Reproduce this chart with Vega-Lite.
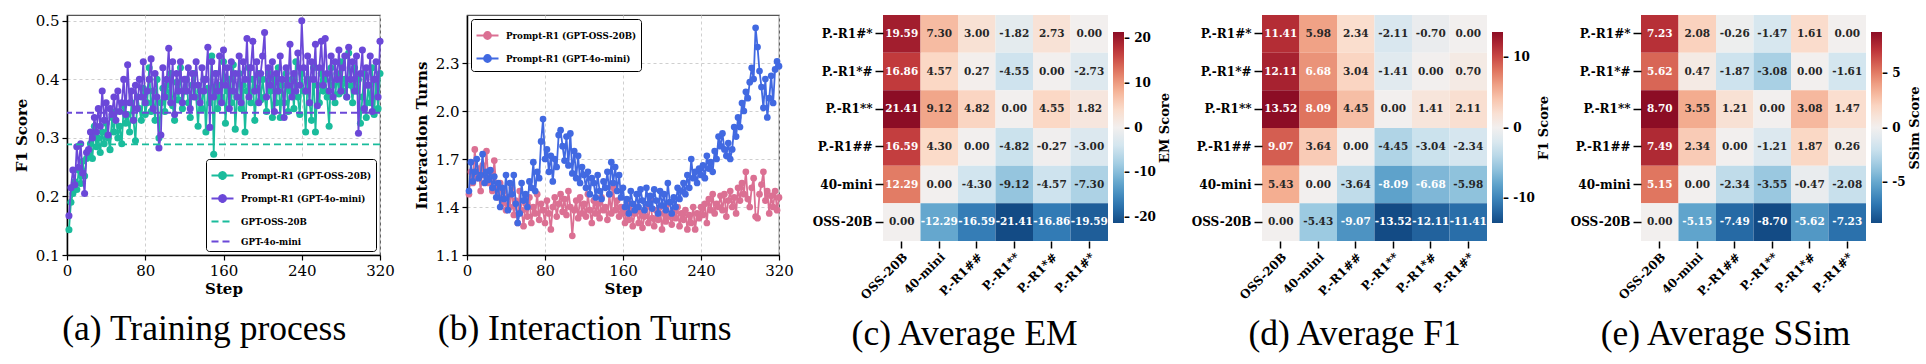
{
"$schema": "https://vega.github.io/schema/vega-lite/v6.json",
"background": "white",
"padding": {"left": 13, "top": 13, "right": 0, "bottom": 0},
"spacing": 18,
"resolve": {"scale": {"color": "independent", "strokeDash": "independent"}, "legend": {"color": "independent", "strokeDash": "independent"}},
"datasets": {
"train": [
{"step":2,"oss":0.143,"mini":0.167},{"step":4,"oss":0.19,"mini":0.215},{"step":6,"oss":0.205,"mini":0.245},{"step":8,"oss":0.225,"mini":0.22},{"step":10,"oss":0.212,"mini":0.285},
{"step":12,"oss":0.245,"mini":0.25},{"step":14,"oss":0.222,"mini":0.29},{"step":16,"oss":0.26,"mini":0.24},{"step":18,"oss":0.235,"mini":0.205},{"step":20,"oss":0.265,"mini":0.275},
{"step":22,"oss":0.27,"mini":0.28},{"step":24,"oss":0.29,"mini":0.31},{"step":26,"oss":0.265,"mini":0.30},{"step":28,"oss":0.32,"mini":0.335},{"step":30,"oss":0.285,"mini":0.31},
{"step":32,"oss":0.30,"mini":0.35},{"step":34,"oss":0.275,"mini":0.32},{"step":36,"oss":0.31,"mini":0.38},{"step":38,"oss":0.29,"mini":0.33},{"step":40,"oss":0.325,"mini":0.36},
{"step":42,"oss":0.30,"mini":0.305},{"step":44,"oss":0.28,"mini":0.35},{"step":46,"oss":0.335,"mini":0.34},{"step":48,"oss":0.31,"mini":0.37},{"step":50,"oss":0.345,"mini":0.33},
{"step":52,"oss":0.30,"mini":0.38},{"step":54,"oss":0.32,"mini":0.345},{"step":56,"oss":0.29,"mini":0.36},{"step":58,"oss":0.355,"mini":0.40},{"step":60,"oss":0.325,"mini":0.34},
{"step":62,"oss":0.34,"mini":0.425},{"step":64,"oss":0.31,"mini":0.36},{"step":66,"oss":0.36,"mini":0.38},{"step":68,"oss":0.33,"mini":0.33},{"step":70,"oss":0.295,"mini":0.39},
{"step":72,"oss":0.37,"mini":0.35},{"step":74,"oss":0.35,"mini":0.40},{"step":76,"oss":0.33,"mini":0.37},{"step":78,"oss":0.385,"mini":0.43},{"step":80,"oss":0.34,"mini":0.36},
{"step":82,"oss":0.36,"mini":0.38},{"step":84,"oss":0.42,"mini":0.40},{"step":86,"oss":0.345,"mini":0.435},{"step":88,"oss":0.38,"mini":0.35},{"step":90,"oss":0.33,"mini":0.41},
{"step":92,"oss":0.40,"mini":0.37},{"step":94,"oss":0.30,"mini":0.283},{"step":96,"oss":0.36,"mini":0.305},{"step":98,"oss":0.385,"mini":0.42},{"step":100,"oss":0.345,"mini":0.37},
{"step":102,"oss":0.39,"mini":0.40},{"step":104,"oss":0.37,"mini":0.453},{"step":106,"oss":0.41,"mini":0.36},{"step":108,"oss":0.355,"mini":0.43},{"step":110,"oss":0.33,"mini":0.34},
{"step":112,"oss":0.395,"mini":0.41},{"step":114,"oss":0.365,"mini":0.38},{"step":116,"oss":0.42,"mini":0.43},{"step":118,"oss":0.35,"mini":0.36},{"step":120,"oss":0.38,"mini":0.40},
{"step":122,"oss":0.40,"mini":0.38},{"step":124,"oss":0.36,"mini":0.42},{"step":126,"oss":0.335,"mini":0.35},{"step":128,"oss":0.39,"mini":0.41},{"step":130,"oss":0.41,"mini":0.37},
{"step":132,"oss":0.37,"mini":0.43},{"step":134,"oss":0.32,"mini":0.39},{"step":136,"oss":0.38,"mini":0.36},{"step":138,"oss":0.35,"mini":0.42},{"step":140,"oss":0.40,"mini":0.38},
{"step":142,"oss":0.31,"mini":0.40},{"step":144,"oss":0.385,"mini":0.455},{"step":146,"oss":0.36,"mini":0.318},{"step":148,"oss":0.44,"mini":0.43},{"step":150,"oss":0.272,"mini":0.37},
{"step":152,"oss":0.41,"mini":0.41},{"step":154,"oss":0.35,"mini":0.38},{"step":156,"oss":0.39,"mini":0.44},{"step":158,"oss":0.37,"mini":0.36},{"step":160,"oss":0.43,"mini":0.45},
{"step":162,"oss":0.325,"mini":0.39},{"step":164,"oss":0.38,"mini":0.42},{"step":166,"oss":0.40,"mini":0.35},{"step":168,"oss":0.36,"mini":0.43},{"step":170,"oss":0.425,"mini":0.38},
{"step":172,"oss":0.315,"mini":0.41},{"step":174,"oss":0.37,"mini":0.37},{"step":176,"oss":0.41,"mini":0.44},{"step":178,"oss":0.35,"mini":0.36},{"step":180,"oss":0.39,"mini":0.43},
{"step":182,"oss":0.31,"mini":0.40},{"step":184,"oss":0.38,"mini":0.47},{"step":186,"oss":0.42,"mini":0.37},{"step":188,"oss":0.36,"mini":0.42},{"step":190,"oss":0.40,"mini":0.465},
{"step":192,"oss":0.33,"mini":0.38},{"step":194,"oss":0.385,"mini":0.43},{"step":196,"oss":0.41,"mini":0.36},{"step":198,"oss":0.365,"mini":0.41},{"step":200,"oss":0.40,"mini":0.44},
{"step":202,"oss":0.37,"mini":0.48},{"step":204,"oss":0.345,"mini":0.37},{"step":206,"oss":0.41,"mini":0.42},{"step":208,"oss":0.38,"mini":0.39},{"step":210,"oss":0.335,"mini":0.43},
{"step":212,"oss":0.40,"mini":0.345},{"step":214,"oss":0.36,"mini":0.41},{"step":216,"oss":0.42,"mini":0.38},{"step":218,"oss":0.335,"mini":0.44},{"step":220,"oss":0.39,"mini":0.40},
{"step":222,"oss":0.36,"mini":0.335},{"step":224,"oss":0.41,"mini":0.42},{"step":226,"oss":0.345,"mini":0.39},{"step":228,"oss":0.38,"mini":0.46},{"step":230,"oss":0.40,"mini":0.37},
{"step":232,"oss":0.35,"mini":0.41},{"step":234,"oss":0.43,"mini":0.38},{"step":236,"oss":0.37,"mini":0.445},{"step":238,"oss":0.34,"mini":0.39},{"step":240,"oss":0.41,"mini":0.50},
{"step":242,"oss":0.38,"mini":0.42},{"step":244,"oss":0.31,"mini":0.38},{"step":246,"oss":0.40,"mini":0.44},{"step":248,"oss":0.36,"mini":0.36},{"step":250,"oss":0.33,"mini":0.43},
{"step":252,"oss":0.42,"mini":0.40},{"step":254,"oss":0.31,"mini":0.46},{"step":256,"oss":0.39,"mini":0.355},{"step":258,"oss":0.36,"mini":0.42},{"step":260,"oss":0.41,"mini":0.465},
{"step":262,"oss":0.38,"mini":0.39},{"step":264,"oss":0.40,"mini":0.47},{"step":266,"oss":0.37,"mini":0.41},{"step":268,"oss":0.32,"mini":0.38},{"step":270,"oss":0.42,"mini":0.44},
{"step":272,"oss":0.39,"mini":0.37},{"step":274,"oss":0.36,"mini":0.43},{"step":276,"oss":0.41,"mini":0.40},{"step":278,"oss":0.375,"mini":0.45},{"step":280,"oss":0.43,"mini":0.38},
{"step":282,"oss":0.38,"mini":0.42},{"step":284,"oss":0.40,"mini":0.44},{"step":286,"oss":0.37,"mini":0.37},{"step":288,"oss":0.445,"mini":0.455},{"step":290,"oss":0.39,"mini":0.40},
{"step":292,"oss":0.36,"mini":0.43},{"step":294,"oss":0.42,"mini":0.38},{"step":296,"oss":0.38,"mini":0.44},{"step":298,"oss":0.40,"mini":0.308},{"step":300,"oss":0.325,"mini":0.41},
{"step":302,"oss":0.37,"mini":0.45},{"step":304,"oss":0.41,"mini":0.35},{"step":306,"oss":0.335,"mini":0.42},{"step":308,"oss":0.39,"mini":0.39},{"step":310,"oss":0.36,"mini":0.44},
{"step":312,"oss":0.42,"mini":0.345},{"step":314,"oss":0.34,"mini":0.40},{"step":316,"oss":0.40,"mini":0.43},{"step":318,"oss":0.35,"mini":0.37},{"step":320,"oss":0.41,"mini":0.465}
],
"base": [{"k":"GPT-OSS-20B","v":0.289},{"k":"GPT-4o-mini","v":0.343}],
"turns": [
{"step":2,"oss":1.48,"mini":1.50},{"step":4,"oss":1.62,"mini":1.68},{"step":6,"oss":1.55,"mini":1.56},{"step":8,"oss":1.76,"mini":1.62},{"step":10,"oss":1.58,"mini":1.70},
{"step":12,"oss":1.64,"mini":1.58},{"step":14,"oss":1.50,"mini":1.60},{"step":16,"oss":1.66,"mini":1.73},{"step":18,"oss":1.60,"mini":1.55},{"step":20,"oss":1.75,"mini":1.62},
{"step":22,"oss":1.55,"mini":1.57},{"step":24,"oss":1.62,"mini":1.63},{"step":26,"oss":1.50,"mini":1.52},{"step":28,"oss":1.69,"mini":1.59},{"step":30,"oss":1.52,"mini":1.46},
{"step":32,"oss":1.46,"mini":1.55},{"step":34,"oss":1.55,"mini":1.40},{"step":36,"oss":1.42,"mini":1.52},{"step":38,"oss":1.50,"mini":1.45},{"step":40,"oss":1.38,"mini":1.60},
{"step":42,"oss":1.46,"mini":1.38},{"step":44,"oss":1.40,"mini":1.55},{"step":46,"oss":1.52,"mini":1.48},{"step":48,"oss":1.35,"mini":1.60},{"step":50,"oss":1.44,"mini":1.42},
{"step":52,"oss":1.30,"mini":1.30},{"step":54,"oss":1.50,"mini":1.36},{"step":56,"oss":1.38,"mini":1.55},{"step":58,"oss":1.28,"mini":1.44},{"step":60,"oss":1.42,"mini":1.48},
{"step":62,"oss":1.34,"mini":1.40},{"step":64,"oss":1.46,"mini":1.56},{"step":66,"oss":1.30,"mini":1.52},{"step":68,"oss":1.40,"mini":1.68},{"step":70,"oss":1.36,"mini":1.50},
{"step":72,"oss":1.48,"mini":1.62},{"step":74,"oss":1.32,"mini":1.58},{"step":76,"oss":1.42,"mini":1.81},{"step":78,"oss":1.38,"mini":1.95},{"step":80,"oss":1.30,"mini":1.70},
{"step":82,"oss":1.44,"mini":1.76},{"step":84,"oss":1.36,"mini":1.62},{"step":86,"oss":1.26,"mini":1.72},{"step":88,"oss":1.40,"mini":1.56},{"step":90,"oss":1.46,"mini":1.70},
{"step":92,"oss":1.34,"mini":1.65},{"step":94,"oss":1.42,"mini":1.85},{"step":96,"oss":1.48,"mini":1.88},{"step":98,"oss":1.37,"mini":1.78},{"step":100,"oss":1.45,"mini":1.69},
{"step":102,"oss":1.35,"mini":1.84},{"step":104,"oss":1.50,"mini":1.66},{"step":106,"oss":1.40,"mini":1.86},{"step":108,"oss":1.22,"mini":1.61},{"step":110,"oss":1.38,"mini":1.75},
{"step":112,"oss":1.44,"mini":1.58},{"step":114,"oss":1.33,"mini":1.72},{"step":116,"oss":1.46,"mini":1.55},{"step":118,"oss":1.36,"mini":1.65},{"step":120,"oss":1.42,"mini":1.60},
{"step":122,"oss":1.34,"mini":1.52},{"step":124,"oss":1.48,"mini":1.62},{"step":126,"oss":1.38,"mini":1.48},{"step":128,"oss":1.30,"mini":1.58},{"step":130,"oss":1.44,"mini":1.55},
{"step":132,"oss":1.36,"mini":1.46},{"step":134,"oss":1.42,"mini":1.60},{"step":136,"oss":1.33,"mini":1.50},{"step":138,"oss":1.46,"mini":1.45},{"step":140,"oss":1.38,"mini":1.56},
{"step":142,"oss":1.40,"mini":1.52},{"step":144,"oss":1.32,"mini":1.62},{"step":146,"oss":1.48,"mini":1.48},{"step":148,"oss":1.36,"mini":1.68},{"step":150,"oss":1.52,"mini":1.55},
{"step":152,"oss":1.38,"mini":1.65},{"step":154,"oss":1.44,"mini":1.50},{"step":156,"oss":1.34,"mini":1.60},{"step":158,"oss":1.40,"mini":1.46},{"step":160,"oss":1.36,"mini":1.52},
{"step":162,"oss":1.30,"mini":1.40},{"step":164,"oss":1.38,"mini":1.45},{"step":166,"oss":1.32,"mini":1.36},{"step":168,"oss":1.42,"mini":1.50},{"step":170,"oss":1.28,"mini":1.42},
{"step":172,"oss":1.36,"mini":1.38},{"step":174,"oss":1.40,"mini":1.48},{"step":176,"oss":1.30,"mini":1.40},{"step":178,"oss":1.37,"mini":1.51},{"step":180,"oss":1.27,"mini":1.44},
{"step":182,"oss":1.34,"mini":1.38},{"step":184,"oss":1.40,"mini":1.52},{"step":186,"oss":1.30,"mini":1.42},{"step":188,"oss":1.45,"mini":1.47},{"step":190,"oss":1.33,"mini":1.39},
{"step":192,"oss":1.28,"mini":1.51},{"step":194,"oss":1.38,"mini":1.44},{"step":196,"oss":1.32,"mini":1.36},{"step":198,"oss":1.40,"mini":1.50},{"step":200,"oss":1.26,"mini":1.41},
{"step":202,"oss":1.36,"mini":1.48},{"step":204,"oss":1.31,"mini":1.38},{"step":206,"oss":1.42,"mini":1.55},{"step":208,"oss":1.34,"mini":1.43},{"step":210,"oss":1.29,"mini":1.36},
{"step":212,"oss":1.38,"mini":1.46},{"step":214,"oss":1.33,"mini":1.40},{"step":216,"oss":1.40,"mini":1.52},{"step":218,"oss":1.28,"mini":1.45},{"step":220,"oss":1.36,"mini":1.50},
{"step":222,"oss":1.32,"mini":1.55},{"step":224,"oss":1.38,"mini":1.48},{"step":226,"oss":1.26,"mini":1.60},{"step":228,"oss":1.35,"mini":1.52},{"step":230,"oss":1.30,"mini":1.70},
{"step":232,"oss":1.40,"mini":1.58},{"step":234,"oss":1.26,"mini":1.62},{"step":236,"oss":1.36,"mini":1.55},{"step":238,"oss":1.33,"mini":1.64},{"step":240,"oss":1.40,"mini":1.60},
{"step":242,"oss":1.35,"mini":1.66},{"step":244,"oss":1.42,"mini":1.58},{"step":246,"oss":1.30,"mini":1.72},{"step":248,"oss":1.45,"mini":1.64},{"step":250,"oss":1.38,"mini":1.68},
{"step":252,"oss":1.48,"mini":1.62},{"step":254,"oss":1.36,"mini":1.75},{"step":256,"oss":1.42,"mini":1.70},{"step":258,"oss":1.40,"mini":1.84},{"step":260,"oss":1.47,"mini":1.78},
{"step":262,"oss":1.38,"mini":1.86},{"step":264,"oss":1.48,"mini":1.76},{"step":266,"oss":1.34,"mini":1.72},{"step":268,"oss":1.44,"mini":1.80},{"step":270,"oss":1.50,"mini":1.70},
{"step":272,"oss":1.40,"mini":1.76},{"step":274,"oss":1.46,"mini":1.90},{"step":276,"oss":1.36,"mini":1.84},{"step":278,"oss":1.52,"mini":1.96},{"step":280,"oss":1.44,"mini":1.90},
{"step":282,"oss":1.55,"mini":2.05},{"step":284,"oss":1.48,"mini":2.00},{"step":286,"oss":1.62,"mini":2.12},{"step":288,"oss":1.45,"mini":2.08},{"step":290,"oss":1.40,"mini":2.18},
{"step":292,"oss":1.52,"mini":2.27},{"step":294,"oss":1.58,"mini":2.20},{"step":296,"oss":1.34,"mini":2.52},{"step":298,"oss":1.33,"mini":2.40},{"step":300,"oss":1.48,"mini":2.25},
{"step":302,"oss":1.54,"mini":2.15},{"step":304,"oss":1.62,"mini":2.02},{"step":306,"oss":1.44,"mini":2.20},{"step":308,"oss":1.50,"mini":1.96},{"step":310,"oss":1.36,"mini":2.08},
{"step":312,"oss":1.47,"mini":2.22},{"step":314,"oss":1.40,"mini":2.05},{"step":316,"oss":1.50,"mini":2.26},{"step":318,"oss":1.38,"mini":2.31},{"step":320,"oss":1.46,"mini":2.28}
],
"em": [
{"r":"P.-R1#*","c":"OSS-20B","v":19.59},{"r":"P.-R1#*","c":"40-mini","v":7.30},{"r":"P.-R1#*","c":"P.-R1##","v":3.00},{"r":"P.-R1#*","c":"P.-R1**","v":-1.82},{"r":"P.-R1#*","c":"P.-R1*#","v":2.73},{"r":"P.-R1#*","c":"P.-R1#*","v":0.00},
{"r":"P.-R1*#","c":"OSS-20B","v":16.86},{"r":"P.-R1*#","c":"40-mini","v":4.57},{"r":"P.-R1*#","c":"P.-R1##","v":0.27},{"r":"P.-R1*#","c":"P.-R1**","v":-4.55},{"r":"P.-R1*#","c":"P.-R1*#","v":0.00},{"r":"P.-R1*#","c":"P.-R1#*","v":-2.73},
{"r":"P.-R1**","c":"OSS-20B","v":21.41},{"r":"P.-R1**","c":"40-mini","v":9.12},{"r":"P.-R1**","c":"P.-R1##","v":4.82},{"r":"P.-R1**","c":"P.-R1**","v":0.00},{"r":"P.-R1**","c":"P.-R1*#","v":4.55},{"r":"P.-R1**","c":"P.-R1#*","v":1.82},
{"r":"P.-R1##","c":"OSS-20B","v":16.59},{"r":"P.-R1##","c":"40-mini","v":4.30},{"r":"P.-R1##","c":"P.-R1##","v":0.00},{"r":"P.-R1##","c":"P.-R1**","v":-4.82},{"r":"P.-R1##","c":"P.-R1*#","v":-0.27},{"r":"P.-R1##","c":"P.-R1#*","v":-3.00},
{"r":"40-mini","c":"OSS-20B","v":12.29},{"r":"40-mini","c":"40-mini","v":0.00},{"r":"40-mini","c":"P.-R1##","v":-4.30},{"r":"40-mini","c":"P.-R1**","v":-9.12},{"r":"40-mini","c":"P.-R1*#","v":-4.57},{"r":"40-mini","c":"P.-R1#*","v":-7.30},
{"r":"OSS-20B","c":"OSS-20B","v":0.00},{"r":"OSS-20B","c":"40-mini","v":-12.29},{"r":"OSS-20B","c":"P.-R1##","v":-16.59},{"r":"OSS-20B","c":"P.-R1**","v":-21.41},{"r":"OSS-20B","c":"P.-R1*#","v":-16.86},{"r":"OSS-20B","c":"P.-R1#*","v":-19.59}
],
"f1": [
{"r":"P.-R1#*","c":"OSS-20B","v":11.41},{"r":"P.-R1#*","c":"40-mini","v":5.98},{"r":"P.-R1#*","c":"P.-R1##","v":2.34},{"r":"P.-R1#*","c":"P.-R1**","v":-2.11},{"r":"P.-R1#*","c":"P.-R1*#","v":-0.70},{"r":"P.-R1#*","c":"P.-R1#*","v":0.00},
{"r":"P.-R1*#","c":"OSS-20B","v":12.11},{"r":"P.-R1*#","c":"40-mini","v":6.68},{"r":"P.-R1*#","c":"P.-R1##","v":3.04},{"r":"P.-R1*#","c":"P.-R1**","v":-1.41},{"r":"P.-R1*#","c":"P.-R1*#","v":0.00},{"r":"P.-R1*#","c":"P.-R1#*","v":0.70},
{"r":"P.-R1**","c":"OSS-20B","v":13.52},{"r":"P.-R1**","c":"40-mini","v":8.09},{"r":"P.-R1**","c":"P.-R1##","v":4.45},{"r":"P.-R1**","c":"P.-R1**","v":0.00},{"r":"P.-R1**","c":"P.-R1*#","v":1.41},{"r":"P.-R1**","c":"P.-R1#*","v":2.11},
{"r":"P.-R1##","c":"OSS-20B","v":9.07},{"r":"P.-R1##","c":"40-mini","v":3.64},{"r":"P.-R1##","c":"P.-R1##","v":0.00},{"r":"P.-R1##","c":"P.-R1**","v":-4.45},{"r":"P.-R1##","c":"P.-R1*#","v":-3.04},{"r":"P.-R1##","c":"P.-R1#*","v":-2.34},
{"r":"40-mini","c":"OSS-20B","v":5.43},{"r":"40-mini","c":"40-mini","v":0.00},{"r":"40-mini","c":"P.-R1##","v":-3.64},{"r":"40-mini","c":"P.-R1**","v":-8.09},{"r":"40-mini","c":"P.-R1*#","v":-6.68},{"r":"40-mini","c":"P.-R1#*","v":-5.98},
{"r":"OSS-20B","c":"OSS-20B","v":0.00},{"r":"OSS-20B","c":"40-mini","v":-5.43},{"r":"OSS-20B","c":"P.-R1##","v":-9.07},{"r":"OSS-20B","c":"P.-R1**","v":-13.52},{"r":"OSS-20B","c":"P.-R1*#","v":-12.11},{"r":"OSS-20B","c":"P.-R1#*","v":-11.41}
],
"ssim": [
{"r":"P.-R1#*","c":"OSS-20B","v":7.23},{"r":"P.-R1#*","c":"40-mini","v":2.08},{"r":"P.-R1#*","c":"P.-R1##","v":-0.26},{"r":"P.-R1#*","c":"P.-R1**","v":-1.47},{"r":"P.-R1#*","c":"P.-R1*#","v":1.61},{"r":"P.-R1#*","c":"P.-R1#*","v":0.00},
{"r":"P.-R1*#","c":"OSS-20B","v":5.62},{"r":"P.-R1*#","c":"40-mini","v":0.47},{"r":"P.-R1*#","c":"P.-R1##","v":-1.87},{"r":"P.-R1*#","c":"P.-R1**","v":-3.08},{"r":"P.-R1*#","c":"P.-R1*#","v":0.00},{"r":"P.-R1*#","c":"P.-R1#*","v":-1.61},
{"r":"P.-R1**","c":"OSS-20B","v":8.70},{"r":"P.-R1**","c":"40-mini","v":3.55},{"r":"P.-R1**","c":"P.-R1##","v":1.21},{"r":"P.-R1**","c":"P.-R1**","v":0.00},{"r":"P.-R1**","c":"P.-R1*#","v":3.08},{"r":"P.-R1**","c":"P.-R1#*","v":1.47},
{"r":"P.-R1##","c":"OSS-20B","v":7.49},{"r":"P.-R1##","c":"40-mini","v":2.34},{"r":"P.-R1##","c":"P.-R1##","v":0.00},{"r":"P.-R1##","c":"P.-R1**","v":-1.21},{"r":"P.-R1##","c":"P.-R1*#","v":1.87},{"r":"P.-R1##","c":"P.-R1#*","v":0.26},
{"r":"40-mini","c":"OSS-20B","v":5.15},{"r":"40-mini","c":"40-mini","v":0.00},{"r":"40-mini","c":"P.-R1##","v":-2.34},{"r":"40-mini","c":"P.-R1**","v":-3.55},{"r":"40-mini","c":"P.-R1*#","v":-0.47},{"r":"40-mini","c":"P.-R1#*","v":-2.08},
{"r":"OSS-20B","c":"OSS-20B","v":0.00},{"r":"OSS-20B","c":"40-mini","v":-5.15},{"r":"OSS-20B","c":"P.-R1##","v":-7.49},{"r":"OSS-20B","c":"P.-R1**","v":-8.70},{"r":"OSS-20B","c":"P.-R1*#","v":-5.62},{"r":"OSS-20B","c":"P.-R1#*","v":-7.23}
]
},
"hconcat": [
{
"width": 313, "height": 240,
"title": {"text": "(a) Training process", "orient": "bottom", "anchor": "middle", "frame": "bounds", "font": "Liberation Serif", "fontSize": 35.5, "fontWeight": "normal", "offset": 16, "dx": 0},
"layer": [
{"data": {"name": "train"}, "mark": {"type": "line", "strokeWidth": 1.8},
 "encoding": {
  "x": {"field": "step", "type": "quantitative", "title": "Step", "scale": {"domain": [0, 320], "nice": false},
        "axis": {"values": [0, 80, 160, 240, 320], "labelFlush": false, "labelFontSize": 15, "titleFontSize": 15, "tickSize": 5, "labelPadding": 3, "titlePadding": 3, "grid": true, "gridDash": [3, 3], "gridColor": "#cfcfcf", "domainWidth": 1.5, "tickWidth": 1.2}},
  "y": {"field": "oss", "type": "quantitative", "title": "F1 Score", "scale": {"domain": [0.1, 0.51], "nice": false, "zero": false},
        "axis": {"values": [0.1, 0.2, 0.3, 0.4, 0.5], "format": ".1f", "labelFontSize": 15, "titleFontSize": 15, "tickSize": 5, "labelPadding": 3, "titlePadding": 6, "grid": true, "gridDash": [3, 3], "gridColor": "#cfcfcf", "domainWidth": 1.5, "tickWidth": 1.2}},
  "color": {"datum": "Prompt-R1 (GPT-OSS-20B)", "type": "nominal",
            "scale": {"domain": ["Prompt-R1 (GPT-OSS-20B)", "Prompt-R1 (GPT-4o-mini)", "GPT-OSS-20B", "GPT-4o-mini"], "range": ["#1ABC9C", "#6B48D8", "#1ABC9C", "#6B48D8"]},
            "legend": {"title": null, "orient": "bottom-right", "offset": 4, "symbolType": "stroke", "symbolSize": 484, "symbolStrokeWidth": 2.2, "labelFont": "DejaVu Serif", "labelFontWeight": "bold", "labelFontSize": 8.7, "labelOffset": 6, "strokeColor": "black", "fillColor": "white", "cornerRadius": 3, "padding": 4, "rowPadding": 2,
                       "encoding": {"symbols": {"shape": {"value": {"expr": "datum.value == 'GPT-OSS-20B' || datum.value == 'GPT-4o-mini' ? 'stroke' : 'M-1,0L1,0M0.3,0A0.3,0.3,0,1,1,-0.3,0A0.3,0.3,0,1,1,0.3,0Z'"}},
                                                "fill": {"value": {"expr": "datum.value == 'Prompt-R1 (GPT-OSS-20B)' ? '#1ABC9C' : datum.value == 'Prompt-R1 (GPT-4o-mini)' ? '#6B48D8' : 'transparent'"}}}}}},
  "strokeDash": {"datum": "Prompt-R1 (GPT-OSS-20B)", "type": "nominal",
            "scale": {"domain": ["Prompt-R1 (GPT-OSS-20B)", "Prompt-R1 (GPT-4o-mini)", "GPT-OSS-20B", "GPT-4o-mini"], "range": [[1, 0], [1, 0], [7, 4], [7, 4]]},
            "legend": {"title": null, "orient": "bottom-right", "offset": 4, "symbolType": "stroke", "symbolSize": 484, "symbolStrokeWidth": 2.2, "labelFont": "DejaVu Serif", "labelFontWeight": "bold", "labelFontSize": 8.7, "labelOffset": 6, "strokeColor": "black", "fillColor": "white", "cornerRadius": 3, "padding": 4, "rowPadding": 2,
                       "encoding": {"symbols": {"shape": {"value": {"expr": "datum.value == 'GPT-OSS-20B' || datum.value == 'GPT-4o-mini' ? 'stroke' : 'M-1,0L1,0M0.3,0A0.3,0.3,0,1,1,-0.3,0A0.3,0.3,0,1,1,0.3,0Z'"}},
                                                "fill": {"value": {"expr": "datum.value == 'Prompt-R1 (GPT-OSS-20B)' ? '#1ABC9C' : datum.value == 'Prompt-R1 (GPT-4o-mini)' ? '#6B48D8' : 'transparent'"}}}}}}
 }},
{"data": {"name": "train"}, "mark": {"type": "point", "filled": true, "size": 50, "opacity": 1},
 "encoding": {
  "x": {"field": "step", "type": "quantitative", "title": "Step"},
  "y": {"field": "oss", "type": "quantitative", "title": "F1 Score"},
  "color": {"datum": "Prompt-R1 (GPT-OSS-20B)", "type": "nominal", "legend": null}
 }},
{"data": {"name": "train"}, "mark": {"type": "line", "strokeWidth": 1.8},
 "encoding": {
  "x": {"field": "step", "type": "quantitative", "title": "Step"},
  "y": {"field": "mini", "type": "quantitative", "title": "F1 Score"},
  "color": {"datum": "Prompt-R1 (GPT-4o-mini)", "type": "nominal"},
  "strokeDash": {"datum": "Prompt-R1 (GPT-4o-mini)", "type": "nominal"}
 }},
{"data": {"name": "train"}, "mark": {"type": "point", "filled": true, "size": 50, "opacity": 1},
 "encoding": {
  "x": {"field": "step", "type": "quantitative", "title": "Step"},
  "y": {"field": "mini", "type": "quantitative", "title": "F1 Score"},
  "color": {"datum": "Prompt-R1 (GPT-4o-mini)", "type": "nominal", "legend": null}
 }},
{"data": {"name": "base"}, "mark": {"type": "rule", "strokeWidth": 1.8},
 "encoding": {
  "y": {"field": "v", "type": "quantitative", "title": "F1 Score"},
  "color": {"field": "k", "type": "nominal", "legend": null},
  "strokeDash": {"field": "k", "type": "nominal", "legend": null}
 }}
]
},
{
"width": 312, "height": 240,
"title": {"text": "(b) Interaction Turns", "orient": "bottom", "anchor": "middle", "frame": "bounds", "font": "Liberation Serif", "fontSize": 35.5, "fontWeight": "normal", "offset": 16, "dx": -19},
"layer": [
{"data": {"name": "turns"}, "mark": {"type": "line", "strokeWidth": 1.8},
 "encoding": {
  "x": {"field": "step", "type": "quantitative", "title": "Step", "scale": {"domain": [0, 320], "nice": false},
        "axis": {"values": [0, 80, 160, 240, 320], "labelFlush": false, "labelFontSize": 15, "titleFontSize": 15, "tickSize": 5, "labelPadding": 3, "titlePadding": 3, "grid": true, "gridDash": [3, 3], "gridColor": "#cfcfcf", "domainWidth": 1.5, "tickWidth": 1.2}},
  "y": {"field": "oss", "type": "quantitative", "title": "Interaction Turns", "scale": {"domain": [1.1, 2.6], "nice": false, "zero": false},
        "axis": {"values": [1.1, 1.4, 1.7, 2.0, 2.3], "format": ".1f", "labelFontSize": 15, "titleFontSize": 15, "tickSize": 5, "labelPadding": 3, "titlePadding": 6, "grid": true, "gridDash": [3, 3], "gridColor": "#cfcfcf", "domainWidth": 1.5, "tickWidth": 1.2}},
  "color": {"datum": "Prompt-R1 (GPT-OSS-20B)", "type": "nominal",
            "scale": {"domain": ["Prompt-R1 (GPT-OSS-20B)", "Prompt-R1 (GPT-4o-mini)"], "range": ["#DB7093", "#4169E1"]},
            "legend": {"title": null, "orient": "top-left", "offset": 4, "symbolType": "M-1,0L1,0M0.3,0A0.3,0.3,0,1,1,-0.3,0A0.3,0.3,0,1,1,0.3,0Z", "symbolSize": 484, "symbolStrokeWidth": 2.2, "labelFont": "DejaVu Serif", "labelFontWeight": "bold", "labelFontSize": 8.7, "labelOffset": 6, "strokeColor": "black", "fillColor": "white", "cornerRadius": 3, "padding": 4, "rowPadding": 2,
                       "encoding": {"symbols": {"fill": {"value": {"expr": "datum.value == 'Prompt-R1 (GPT-OSS-20B)' ? '#DB7093' : '#4169E1'"}}}}}}
 }},
{"data": {"name": "turns"}, "mark": {"type": "point", "filled": true, "size": 45, "opacity": 1},
 "encoding": {
  "x": {"field": "step", "type": "quantitative", "title": "Step"},
  "y": {"field": "oss", "type": "quantitative", "title": "Interaction Turns"},
  "color": {"datum": "Prompt-R1 (GPT-OSS-20B)", "type": "nominal", "legend": null}
 }},
{"data": {"name": "turns"}, "mark": {"type": "line", "strokeWidth": 1.8},
 "encoding": {
  "x": {"field": "step", "type": "quantitative", "title": "Step"},
  "y": {"field": "mini", "type": "quantitative", "title": "Interaction Turns"},
  "color": {"datum": "Prompt-R1 (GPT-4o-mini)", "type": "nominal"}
 }},
{"data": {"name": "turns"}, "mark": {"type": "point", "filled": true, "size": 45, "opacity": 1},
 "encoding": {
  "x": {"field": "step", "type": "quantitative", "title": "Step"},
  "y": {"field": "mini", "type": "quantitative", "title": "Interaction Turns"},
  "color": {"datum": "Prompt-R1 (GPT-4o-mini)", "type": "nominal", "legend": null}
 }}
]
},
{
"width": 225, "height": 226,
"data": {"name": "em"},
"view": {"stroke": null},
"title": {"text": "(c) Average EM", "orient": "bottom", "anchor": "middle", "frame": "bounds", "font": "Liberation Serif", "fontSize": 35.5, "fontWeight": "normal", "offset": 16, "dx": -28},
"encoding": {
  "x": {"field": "c", "type": "nominal", "title": null, "sort": ["OSS-20B", "40-mini", "P.-R1##", "P.-R1**", "P.-R1*#", "P.-R1#*"], "scale": {"paddingInner": 0, "paddingOuter": 0},
        "axis": {"domain": false, "grid": false, "tickSize": 7, "tickWidth": 1.5, "labelAngle": -45, "labelPadding": 3, "labelFontSize": 12, "labelFontWeight": "bold"}},
  "y": {"field": "r", "type": "nominal", "title": null, "sort": ["P.-R1#*", "P.-R1*#", "P.-R1**", "P.-R1##", "40-mini", "OSS-20B"], "scale": {"paddingInner": 0, "paddingOuter": 0},
        "axis": {"domain": false, "grid": false, "tickSize": 8, "tickWidth": 1.5, "labelPadding": 3, "labelFontSize": 12, "labelFontWeight": "bold"}}
},
"layer": [
 {"mark": {"type": "rect"},
  "encoding": {"color": {"field": "v", "type": "quantitative", "scale": {"scheme": "redblue", "reverse": true, "domain": [-21.41, 21.41]},
     "legend": {"title": "EM Score", "orient": "none", "legendX": 230, "legendY": 17, "direction": "vertical", "gradientLength": 191, "gradientThickness": 11, "gradientStrokeWidth": 0, "padding": 0,
                "values": [-20, -10, 0, 10, 20], "labelExpr": "'– ' + datum.label", "labelFont": "DejaVu Serif", "labelFontWeight": "bold", "labelFontSize": 12, "labelOffset": 0, "labelOverlap": false,
                "titleOrient": "right", "titleAnchor": "middle", "titleFont": "DejaVu Serif", "titleFontWeight": "bold", "titleFontSize": 13, "titlePadding": 3,
                "encoding": {"title": {"angle": {"value": 270}, "baseline": {"value": "top"}}}}}}},
 {"mark": {"type": "text", "font": "DejaVu Serif", "fontWeight": "bold", "fontSize": 10.5},
  "encoding": {"text": {"field": "v", "type": "quantitative", "format": ".2f"},
     "color": {"condition": {"test": "abs(datum.v) > 10", "value": "white"}, "value": "#262626"}}}
]
},
{
"width": 225, "height": 226,
"data": {"name": "f1"},
"view": {"stroke": null},
"title": {"text": "(d) Average F1", "orient": "bottom", "anchor": "middle", "frame": "bounds", "font": "Liberation Serif", "fontSize": 35.5, "fontWeight": "normal", "offset": 16, "dx": -17},
"encoding": {
  "x": {"field": "c", "type": "nominal", "title": null, "sort": ["OSS-20B", "40-mini", "P.-R1##", "P.-R1**", "P.-R1*#", "P.-R1#*"], "scale": {"paddingInner": 0, "paddingOuter": 0},
        "axis": {"domain": false, "grid": false, "tickSize": 7, "tickWidth": 1.5, "labelAngle": -45, "labelPadding": 3, "labelFontSize": 12, "labelFontWeight": "bold"}},
  "y": {"field": "r", "type": "nominal", "title": null, "sort": ["P.-R1#*", "P.-R1*#", "P.-R1**", "P.-R1##", "40-mini", "OSS-20B"], "scale": {"paddingInner": 0, "paddingOuter": 0},
        "axis": {"domain": false, "grid": false, "tickSize": 8, "tickWidth": 1.5, "labelPadding": 3, "labelFontSize": 12, "labelFontWeight": "bold"}}
},
"layer": [
 {"mark": {"type": "rect"},
  "encoding": {"color": {"field": "v", "type": "quantitative", "scale": {"scheme": "redblue", "reverse": true, "domain": [-13.52, 13.52]},
     "legend": {"title": "F1 Score", "orient": "none", "legendX": 230, "legendY": 17, "direction": "vertical", "gradientLength": 191, "gradientThickness": 11, "gradientStrokeWidth": 0, "padding": 0,
                "values": [-10, 0, 10], "labelExpr": "'– ' + datum.label", "labelFont": "DejaVu Serif", "labelFontWeight": "bold", "labelFontSize": 12, "labelOffset": 0, "labelOverlap": false,
                "titleOrient": "right", "titleAnchor": "middle", "titleFont": "DejaVu Serif", "titleFontWeight": "bold", "titleFontSize": 13, "titlePadding": 3,
                "encoding": {"title": {"angle": {"value": 270}, "baseline": {"value": "top"}}}}}}},
 {"mark": {"type": "text", "font": "DejaVu Serif", "fontWeight": "bold", "fontSize": 10.5},
  "encoding": {"text": {"field": "v", "type": "quantitative", "format": ".2f"},
     "color": {"condition": {"test": "abs(datum.v) > 6.35", "value": "white"}, "value": "#262626"}}}
]
},
{
"width": 225, "height": 226,
"data": {"name": "ssim"},
"view": {"stroke": null},
"title": {"text": "(e) Average SSim", "orient": "bottom", "anchor": "middle", "frame": "bounds", "font": "Liberation Serif", "fontSize": 35.5, "fontWeight": "normal", "offset": 16, "dx": -21},
"encoding": {
  "x": {"field": "c", "type": "nominal", "title": null, "sort": ["OSS-20B", "40-mini", "P.-R1##", "P.-R1**", "P.-R1*#", "P.-R1#*"], "scale": {"paddingInner": 0, "paddingOuter": 0},
        "axis": {"domain": false, "grid": false, "tickSize": 7, "tickWidth": 1.5, "labelAngle": -45, "labelPadding": 3, "labelFontSize": 12, "labelFontWeight": "bold"}},
  "y": {"field": "r", "type": "nominal", "title": null, "sort": ["P.-R1#*", "P.-R1*#", "P.-R1**", "P.-R1##", "40-mini", "OSS-20B"], "scale": {"paddingInner": 0, "paddingOuter": 0},
        "axis": {"domain": false, "grid": false, "tickSize": 8, "tickWidth": 1.5, "labelPadding": 3, "labelFontSize": 12, "labelFontWeight": "bold"}}
},
"layer": [
 {"mark": {"type": "rect"},
  "encoding": {"color": {"field": "v", "type": "quantitative", "scale": {"scheme": "redblue", "reverse": true, "domain": [-8.70, 8.70]},
     "legend": {"title": "SSim Score", "orient": "none", "legendX": 230, "legendY": 17, "direction": "vertical", "gradientLength": 191, "gradientThickness": 11, "gradientStrokeWidth": 0, "padding": 0,
                "values": [-5, 0, 5], "labelExpr": "'– ' + datum.label", "labelFont": "DejaVu Serif", "labelFontWeight": "bold", "labelFontSize": 12, "labelOffset": 0, "labelOverlap": false,
                "titleOrient": "right", "titleAnchor": "middle", "titleFont": "DejaVu Serif", "titleFontWeight": "bold", "titleFontSize": 13, "titlePadding": 3,
                "encoding": {"title": {"angle": {"value": 270}, "baseline": {"value": "top"}}}}}}},
 {"mark": {"type": "text", "font": "DejaVu Serif", "fontWeight": "bold", "fontSize": 10.5},
  "encoding": {"text": {"field": "v", "type": "quantitative", "format": ".2f"},
     "color": {"condition": {"test": "abs(datum.v) > 4.1", "value": "white"}, "value": "#262626"}}}
]
}
],
"config": {
  "font": "DejaVu Serif",
  "view": {"stroke": "#555555", "strokeWidth": 1.2},
  "axis": {"labelFont": "DejaVu Serif", "titleFont": "DejaVu Serif", "labelColor": "black", "titleColor": "black", "tickColor": "black", "domainColor": "black", "titleFontWeight": "bold"},
  "legend": {"labelColor": "black", "titleColor": "black"},
  "title": {"color": "black"},
  "locale": {"number": {"decimal": ".", "thousands": ",", "grouping": [3], "currency": ["$", ""], "minus": "-"}}
}
}
